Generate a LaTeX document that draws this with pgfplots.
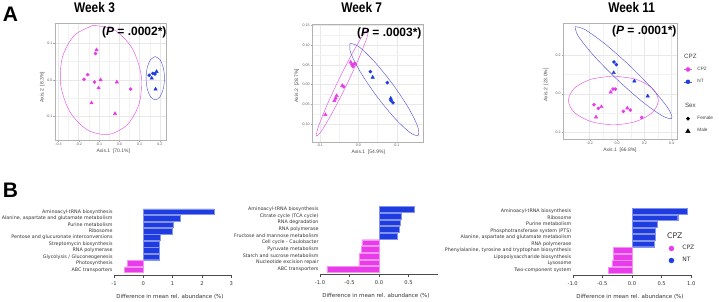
\documentclass[border=0pt]{standalone}
\usepackage{fontspec}
\setmainfont{Liberation Sans}
\newfontfamily\dejavu{DejaVu Sans}
\newfontfamily\condfont[FakeStretch=0.85]{Liberation Sans}
\usepackage{pgfplots}
\pgfplotsset{compat=1.18}
\definecolor{cpz}{HTML}{EA3BEA}
\definecolor{nt}{HTML}{1E3CE0}
\definecolor{cpzell}{HTML}{E455E4}
\definecolor{ntell}{HTML}{5A58D6}
\pgfplotsset{
  pcoa/.style={
    scale only axis, anchor=north west, enlargelimits=false,
    axis line style={black!30, line width=0.4pt},
    grid=both, minor tick num=1,
    major grid style={black!9, line width=0.45pt},
    minor grid style={black!5, line width=0.25pt},
    tick align=outside, major tick length=1.6pt, minor tick length=0pt,
    tick style={black!35, line width=0.35pt},
    xtick pos=bottom, ytick pos=left,
    ticklabel style={font=\fontsize{3.6}{4}\selectfont, text=black!65, inner sep=0.8pt},
    label style={font=\fontsize{5}{6}\selectfont, text=black!70},
  },
  cc/.style={only marks, mark=*, mark size=1.6pt, cpz, mark options={draw=cpz}},
  ct/.style={only marks, mark=triangle*, mark size=2pt, cpz, mark options={draw=cpz}},
  nc/.style={only marks, mark=*, mark size=1.6pt, nt, mark options={draw=nt}},
  ntr/.style={only marks, mark=triangle*, mark size=2pt, nt, mark options={draw=nt}},
  ce/.style={cpzell, line width=0.45pt, smooth, no markers},
  ne/.style={ntell, line width=0.45pt, smooth, no markers},
  bars/.style={
    scale only axis, anchor=north west,
    axis lines=left, axis line style={-, black!70, line width=0.4pt},
    x axis line style={-}, y axis line style={draw=none},
    ytick style={draw=none}, xtick style={black!70, line width=0.4pt},
    tick align=outside, major tick length=3pt,
    ytick={1,...,10},
    xticklabel style={font=\dejavu\fontsize{5.2}{6}\selectfont, text=black!80},
    yticklabel style={font=\dejavu\fontsize{4.8}{5}\selectfont, text=black!80, inner sep=0pt, xshift=1.7pt},
    xlabel={Difference in mean rel. abundance (\%)},
    xlabel style={font=\dejavu\fontsize{5.5}{6}\selectfont, text=black!80, anchor=center, yshift=-21.7pt},
  },
  bp/.style={xbar, bar shift=0pt, bar width=0.88, fill=nt, draw=nt!55!white, line width=0.3pt},
  bn/.style={xbar, bar shift=0pt, bar width=0.88, fill=cpz, draw=cpz!55!white, line width=0.3pt},
}
\begin{document}
\begin{tikzpicture}
\path[use as bounding box] (0,0) rectangle (719pt,-301pt);

% ---------------- Week 3
\begin{axis}[pcoa, at={(55pt,-22.7pt)}, width=110.7pt, height=117.3pt,
  xmin=-0.317, xmax=0.229, ymin=-0.164, ymax=0.156,
  xtick={-0.3,-0.2,-0.1,0,0.1,0.2}, xticklabels={-0.3,-0.2,-0.1,0.0,0.1,0.2},
  ytick={-0.1,0,0.1}, yticklabels={-0.1,0.0,0.1},
  xlabel={Axis.1\ \ [70.1\%]}, ylabel={Axis.2\ \ [8.3\%]},
  xlabel style={at={(axis description cs:0.527,-0.094)}, anchor=center},
  ylabel style={at={(axis description cs:-0.115,0.45)}, anchor=center}]
\addplot[ce] coordinates {(-0.1285,0.1488) (-0.0244,0.1366) (0.0619,0.0877) (0.1074,0.0153) (0.0999,-0.0611) (0.0414,-0.1212) (-0.0525,-0.1488) (-0.1566,-0.1366) (-0.2429,-0.0877) (-0.2884,-0.0153) (-0.2809,0.0611) (-0.2224,0.1212) (-0.1285,0.1488)};
\addplot[ne] coordinates {(0.1776,0.0636) (0.2003,0.0557) (0.2169,0.0341) (0.2230,0.0046) (0.2169,-0.0249) (0.2003,-0.0465) (0.1776,-0.0544) (0.1549,-0.0465) (0.1383,-0.0249) (0.1322,0.0046) (0.1383,0.0341) (0.1549,0.0557) (0.1776,0.0636)};
\addplot[cc] coordinates {(-0.117,0.072) (-0.156,0.0145) (-0.174,0.002) (-0.122,-0.006) (0.056,-0.025)};
\addplot[ct] coordinates {(-0.112,0.082) (-0.092,0.0) (-0.102,-0.022) (-0.012,-0.006) (-0.137,-0.063) (-0.021,-0.092)};
\addplot[nc] coordinates {(0.148,0.0128) (0.176,0.0163) (0.166,0.0177)};
\addplot[ntr] coordinates {(0.160,0.0046) (0.184,0.0226) (0.179,-0.0253)};
\end{axis}

% ---------------- Week 7
\begin{axis}[pcoa, at={(312.3pt,-24pt)}, width=110.4pt, height=117.7pt,
  xmin=-0.1195, xmax=0.167, ymin=-0.144, ymax=0.153,
  xtick={-0.1,0,0.1}, xticklabels={-0.1,0.0,0.1},
  ytick={-0.1,-0.05,0,0.05,0.1,0.15}, yticklabels={-0.10,-0.05,0.00,0.05,0.10,0.15},
  xlabel={Axis.1\ \ [54.9\%]}, ylabel={Axis.2\ \ [28.7\%]},
  xlabel style={at={(axis description cs:0.507,-0.085)}, anchor=center},
  ylabel style={at={(axis description cs:-0.141,0.476)}, anchor=center}]
\addplot[ce] coordinates {(0.0260,0.1398) (0.0225,0.1191) (0.0019,0.0681) (-0.0302,0.0000) (-0.0653,-0.0667) (-0.0937,-0.1141) (-0.1082,-0.1296) (-0.1047,-0.1089) (-0.0841,-0.0579) (-0.0520,0.0102) (-0.0169,0.0769) (0.0115,0.1243) (0.0260,0.1398)};
\addplot[ne] coordinates {(-0.0216,0.1044) (0.0007,0.0963) (0.0406,0.0593) (0.0876,0.0032) (0.1290,-0.0569) (0.1537,-0.1049) (0.1550,-0.1280) (0.1327,-0.1199) (0.0928,-0.0829) (0.0458,-0.0268) (0.0044,0.0333) (-0.0203,0.0813) (-0.0216,0.1044)};
\addplot[cc] coordinates {(-0.0165,0.0505) (-0.0104,0.0530) (-0.0139,0.0455) (-0.0381,-0.0051) (-0.0589,-0.0345)};
\addplot[ct] coordinates {(-0.0199,0.0564) (-0.0078,0.0522) (-0.0416,-0.0025) (-0.0563,-0.0278) (-0.0623,-0.0404) (-0.0857,-0.0758)};
\addplot[nc] coordinates {(0.0312,0.0328) (0.0753,0.0051) (0.0848,-0.0404) (0.0900,-0.0455)};
\addplot[ntr] coordinates {(0.0372,0.0185) (0.0840,-0.0345)};
\end{axis}

% ---------------- Week 11
\begin{axis}[pcoa, at={(563.3pt,-22.7pt)}, width=114pt, height=116.7pt,
  xmin=-0.393, xmax=0.441, ymin=-0.236, ymax=0.367,
  xtick={-0.2,0,0.2,0.4}, xticklabels={-0.2,0.0,0.2,0.4},
  ytick={-0.2,0,0.2}, yticklabels={-0.2,0.0,0.2},
  xlabel={Axis.1\ \ [66.8\%]}, ylabel={Axis.2\ \ [23.0\%]},
  xlabel style={at={(axis description cs:0.497,-0.092)}, anchor=center},
  ylabel style={at={(axis description cs:-0.152,0.466)}, anchor=center},
  legend style={at={(1.0526,0.759)}, anchor=north west, draw=none, fill=none, inner sep=0pt,
    font=\fontsize{4.7}{5}\selectfont, text=black!75, row sep=0pt,
    nodes={inner sep=0pt, minimum height=12.3pt},
    /tikz/every odd column/.append style={column sep=5pt}},
  legend cell align=left]
\addplot[ce, forget plot] coordinates {(-0.0268,0.0915) (0.1377,0.0746) (0.2581,0.0285) (0.3022,-0.0345) (0.2581,-0.0975) (0.1377,-0.1436) (-0.0268,-0.1605) (-0.1913,-0.1436) (-0.3117,-0.0975) (-0.3558,-0.0345) (-0.3117,0.0285) (-0.1913,0.0746) (-0.0268,0.0915)};
\addplot[ne, forget plot] coordinates {(-0.3074,0.3466) (-0.2364,0.3323) (-0.0898,0.2584) (0.0934,0.1445) (0.2640,0.0212) (0.3762,-0.0783) (0.4000,-0.1276) (0.3290,-0.1133) (0.1824,-0.0394) (-0.0008,0.0745) (-0.1714,0.1978) (-0.2836,0.2973) (-0.3074,0.3466)};
\addplot[cc, forget plot] coordinates {(-0.0293,0.0241) (-0.0122,0.0241) (-0.1683,-0.0569) (-0.1366,-0.0759) (0.0463,-0.0914) (0.0976,-0.0845) (0.1805,-0.1224)};
\addplot[ct, forget plot] coordinates {(-0.0463,0.0086) (-0.1146,-0.0672) (-0.1537,-0.1207) (0.0756,-0.0741)};
\addplot[nc, forget plot] coordinates {(-0.0220,0.1638) (-0.0049,0.1500)};
\addplot[ntr, forget plot] coordinates {(-0.0244,0.1086) (0.1268,0.0655) (0.2244,-0.0121)};
\addlegendimage{empty legend}
\addlegendentry{\hspace*{-15pt}\fontsize{6.2}{7}\selectfont CPZ}
\addlegendimage{legend image code/.code={\draw[cpzell, line width=0.5pt] (0pt,0pt)--(8.4pt,0pt); \fill[cpz] (4.2pt,0pt) circle (2pt);}}
\addlegendentry{CPZ}
\addlegendimage{legend image code/.code={\draw[ntell, line width=0.5pt] (0pt,0pt)--(8.4pt,0pt); \fill[nt] (4.2pt,0pt) circle (2pt);}}
\addlegendentry{NT}
\addlegendimage{empty legend}
\addlegendentry{}
\addlegendimage{empty legend}
\addlegendentry{\hspace*{-15pt}\fontsize{6.2}{7}\selectfont Sex}
\addlegendimage{legend image code/.code={\fill[black] (4.2pt,0pt) circle (1.7pt);}}
\addlegendentry{Female}
\addlegendimage{legend image code/.code={\fill[black] (4.2pt,2.2pt)--(2pt,-1.6pt)--(6.4pt,-1.6pt)--cycle;}}
\addlegendentry{Male}
\end{axis}

% ---------------- B1
\begin{axis}[bars, at={(114pt,-206.4pt)}, width=117.3pt, height=68.6pt,
  xmin=-1, xmax=3, ymin=0.18, ymax=10.82,
  xtick={-1,0,1,2,3}, xticklabels={-1,0,1,2,3},
  xlabel style={at={(axis description cs:0.477,0)}},
  yticklabels={ABC transporters, Photosynthesis, Glycolysis / Gluconeogenesis, RNA polymerase, Streptomycin biosynthesis, Pentose and glucuronate interconversions, Ribosome, Purine metabolism, {Alanine, aspartate and glutamate metabolism}, Aminoacyl-tRNA biosynthesis}]
\addplot[bp] coordinates {(2.42,10) (1.25,9) (1.01,8) (0.97,7) (0.59,6) (0.54,5) (0.53,4) (0.53,3)};
\addplot[bn] coordinates {(-0.55,2) (-0.65,1)};
\end{axis}

% ---------------- B2
\begin{axis}[bars, at={(320pt,-204.3pt)}, width=118.1pt, height=70pt,
  xmin=-1, xmax=1, ymin=0.25, ymax=10.75,
  xtick={-1,-0.5,0,0.5}, xticklabels={-1.0,-0.5,0.0,0.5},
  xlabel style={at={(axis description cs:0.474,0)}},
  yticklabels={ABC transporters, Nucleotide excision repair, Starch and sucrose metabolism, Pyruvate metabolism, Cell cycle - Caulobacter, Fructose and mannose metabolism, RNA polymerase, RNA degradation, Citrate cycle (TCA cycle), Aminoacyl-tRNA biosynthesis}]
\addplot[bp] coordinates {(0.60,10) (0.37,9) (0.355,8) (0.34,7) (0.30,6)};
\addplot[bn] coordinates {(-0.29,5) (-0.30,4) (-0.33,3) (-0.34,2) (-0.885,1)};
\end{axis}

% ---------------- B3
\begin{axis}[bars, at={(572.7pt,-205.7pt)}, width=118.6pt, height=69.6pt,
  xmin=-1, xmax=1, ymin=0.19, ymax=10.81,
  xtick={-1,-0.5,0,0.5,1}, xticklabels={-1.0,-0.5,0.0,0.5,1.0},
  xlabel style={at={(axis description cs:0.483,0)}},
  yticklabels={Two-component system, Lysosome, Lipopolysaccharide biosynthesis, {Phenylalanine, tyrosine and tryptophan biosynthesis}, RNA polymerase, {Alanine, aspartate and glutamate metabolism}, Phosphotransferase system (PTS), Purine metabolism, Ribosome, Aminoacyl-tRNA biosynthesis},
  legend style={at={(0.808,0.647)}, anchor=north west, draw=none, fill=none, inner sep=0pt,
    font=\dejavu\fontsize{6}{7}\selectfont, text=black!80, row sep=0pt,
    nodes={inner sep=0pt, minimum height=12pt},
    /tikz/every odd column/.append style={column sep=8.2pt}},
  legend cell align=left]
\addplot[bp, forget plot] coordinates {(0.93,10) (0.77,9) (0.42,8) (0.39,7) (0.39,6) (0.38,5)};
\addplot[bn, forget plot] coordinates {(-0.31,4) (-0.32,3) (-0.34,2) (-0.40,1)};
\addlegendimage{empty legend}
\addlegendentry{\hspace*{-16pt}\fontsize{7.7}{8}\selectfont CPZ}
\addlegendimage{legend image code/.code={\fill[cpz] (2.5pt,0pt) circle (2.5pt);}}
\addlegendentry{CPZ}
\addlegendimage{legend image code/.code={\fill[nt] (2.5pt,0pt) circle (2.5pt);}}
\addlegendentry{NT}
\end{axis}

% ---------------- titles and labels
\node[font=\bfseries\fontsize{21}{22}\selectfont, inner sep=0pt] at (10.5pt,-14.3pt) {A};
\node[font=\bfseries\fontsize{21}{22}\selectfont, inner sep=0pt] at (10.5pt,-190pt) {B};
\node[font=\condfont\bfseries\fontsize{14}{15}\selectfont, inner sep=0pt] at (94.5pt,-7.5pt) {Week 3};
\node[font=\condfont\bfseries\fontsize{14}{15}\selectfont, inner sep=0pt] at (361.7pt,-7.5pt) {Week 7};
\node[font=\condfont\bfseries\fontsize{14}{15}\selectfont, inner sep=0pt] at (631.7pt,-7.5pt) {Week 11};
\node[anchor=east, font=\bfseries\fontsize{12}{13}\selectfont, inner sep=0pt] at (166.7pt,-32.5pt) {(\textit{P} = .0002*)};
\node[anchor=east, font=\bfseries\fontsize{12}{13}\selectfont, inner sep=0pt] at (421.7pt,-33.8pt) {(\textit{P} = .0003*)};
\node[anchor=east, font=\bfseries\fontsize{12}{13}\selectfont, inner sep=0pt] at (676.7pt,-31.2pt) {(\textit{P} = .0001*)};
\end{tikzpicture}
\end{document}
